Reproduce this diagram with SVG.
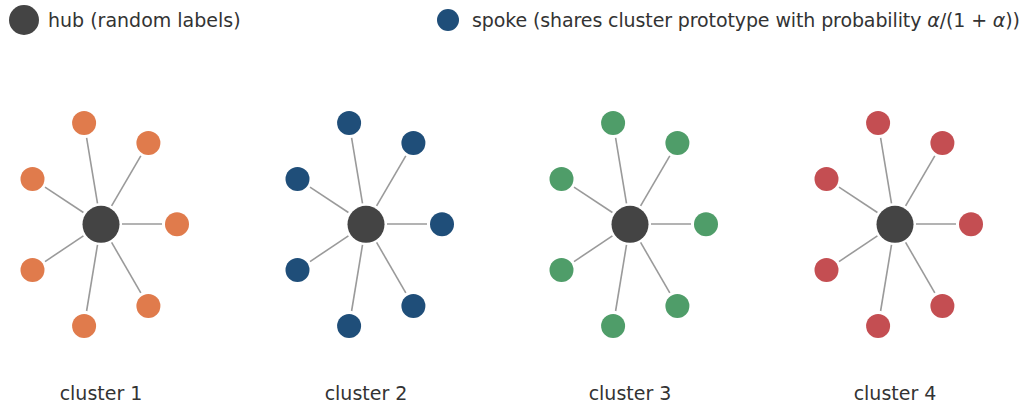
<svg xmlns="http://www.w3.org/2000/svg" width="1025" height="406" viewBox="0 0 1025 406">
  <defs>
    <style>
      text { font-family: "DejaVu Sans", "Liberation Sans", sans-serif; font-size: 19px; fill: #333333; }
      .edge { stroke: #9a9a9a; stroke-width: 1.6; fill: none; }
      .hub { fill: #444444; }
      .c1 { fill: #E07B4C; }
      .c2 { fill: #1F4E79; }
      .c3 { fill: #4F9D69; }
      .c4 { fill: #C44E52; }
      .label { text-anchor: middle; }
    </style>
    <!-- one star of seven spokes, relative to its hub -->
    <g id="star-edges">
      <line x1="21" y1="0" x2="61" y2="0"/>
      <line x1="10.6" y1="-18.1" x2="39.8" y2="-68.1"/>
      <line x1="-3.5" y1="-20.7" x2="-14.4" y2="-86.2"/>
      <line x1="-17.6" y1="-11.5" x2="-56" y2="-36.8"/>
      <line x1="-17.6" y1="11.8" x2="-56" y2="37.6"/>
      <line x1="-3.5" y1="20.9" x2="-14.4" y2="87"/>
      <line x1="10.6" y1="18.4" x2="39.8" y2="68.9"/>
    </g>
  </defs>
  <rect width="1025" height="406" fill="#ffffff"/>

  <!-- legend -->
  <g id="legend">
    <circle class="hub" cx="24" cy="20" r="15"/>
    <text x="48" y="27">hub (random labels)</text>
    <circle class="c2" cx="448" cy="20" r="11"/>
    <text x="472" y="27" textLength="548">spoke (shares cluster prototype with probability <tspan font-style="italic">α</tspan>/(1 + <tspan font-style="italic">α</tspan>))</text>
  </g>

  <!-- connectors -->
  <g id="connectors" class="edge">
    <use href="#star-edges" transform="translate(101,224)"/>
    <use href="#star-edges" transform="translate(366,224)"/>
    <use href="#star-edges" transform="translate(630,224)"/>
    <use href="#star-edges" transform="translate(895,224)"/>
  </g>

  <!-- cluster 1 -->
  <g id="cluster1">
    <g id="c1-hub"><circle class="hub" cx="101" cy="224.3" r="18.5"/></g>
    <g id="c1-s0"><circle class="c1" cx="177" cy="224.3" r="12"/></g>
    <g id="c1-s1"><circle class="c1" cx="148.4" cy="143" r="12"/></g>
    <g id="c1-s2"><circle class="c1" cx="84.1" cy="123" r="12"/></g>
    <g id="c1-s3"><circle class="c1" cx="32.5" cy="179" r="12"/></g>
    <g id="c1-s4"><circle class="c1" cx="32.5" cy="270" r="12"/></g>
    <g id="c1-s5"><circle class="c1" cx="84.1" cy="326" r="12"/></g>
    <g id="c1-s6"><circle class="c1" cx="148.4" cy="306" r="12"/></g>
    <text class="label" x="101" y="400">cluster 1</text>
  </g>

  <!-- cluster 2 -->
  <g id="cluster2">
    <g id="c2-hub"><circle class="hub" cx="366" cy="224.3" r="18.5"/></g>
    <g id="c2-s0"><circle class="c2" cx="442" cy="224.3" r="12"/></g>
    <g id="c2-s1"><circle class="c2" cx="413.4" cy="143" r="12"/></g>
    <g id="c2-s2"><circle class="c2" cx="349.1" cy="123" r="12"/></g>
    <g id="c2-s3"><circle class="c2" cx="297.5" cy="179" r="12"/></g>
    <g id="c2-s4"><circle class="c2" cx="297.5" cy="270" r="12"/></g>
    <g id="c2-s5"><circle class="c2" cx="349.1" cy="326" r="12"/></g>
    <g id="c2-s6"><circle class="c2" cx="413.4" cy="306" r="12"/></g>
    <text class="label" x="366" y="400">cluster 2</text>
  </g>

  <!-- cluster 3 -->
  <g id="cluster3">
    <g id="c3-hub"><circle class="hub" cx="630" cy="224.3" r="18.5"/></g>
    <g id="c3-s0"><circle class="c3" cx="706" cy="224.3" r="12"/></g>
    <g id="c3-s1"><circle class="c3" cx="677.4" cy="143" r="12"/></g>
    <g id="c3-s2"><circle class="c3" cx="613.1" cy="123" r="12"/></g>
    <g id="c3-s3"><circle class="c3" cx="561.5" cy="179" r="12"/></g>
    <g id="c3-s4"><circle class="c3" cx="561.5" cy="270" r="12"/></g>
    <g id="c3-s5"><circle class="c3" cx="613.1" cy="326" r="12"/></g>
    <g id="c3-s6"><circle class="c3" cx="677.4" cy="306" r="12"/></g>
    <text class="label" x="630" y="400">cluster 3</text>
  </g>

  <!-- cluster 4 -->
  <g id="cluster4">
    <g id="c4-hub"><circle class="hub" cx="895" cy="224.3" r="18.5"/></g>
    <g id="c4-s0"><circle class="c4" cx="971" cy="224.3" r="12"/></g>
    <g id="c4-s1"><circle class="c4" cx="942.4" cy="143" r="12"/></g>
    <g id="c4-s2"><circle class="c4" cx="878.1" cy="123" r="12"/></g>
    <g id="c4-s3"><circle class="c4" cx="826.5" cy="179" r="12"/></g>
    <g id="c4-s4"><circle class="c4" cx="826.5" cy="270" r="12"/></g>
    <g id="c4-s5"><circle class="c4" cx="878.1" cy="326" r="12"/></g>
    <g id="c4-s6"><circle class="c4" cx="942.4" cy="306" r="12"/></g>
    <text class="label" x="895" y="400">cluster 4</text>
  </g>
</svg>
